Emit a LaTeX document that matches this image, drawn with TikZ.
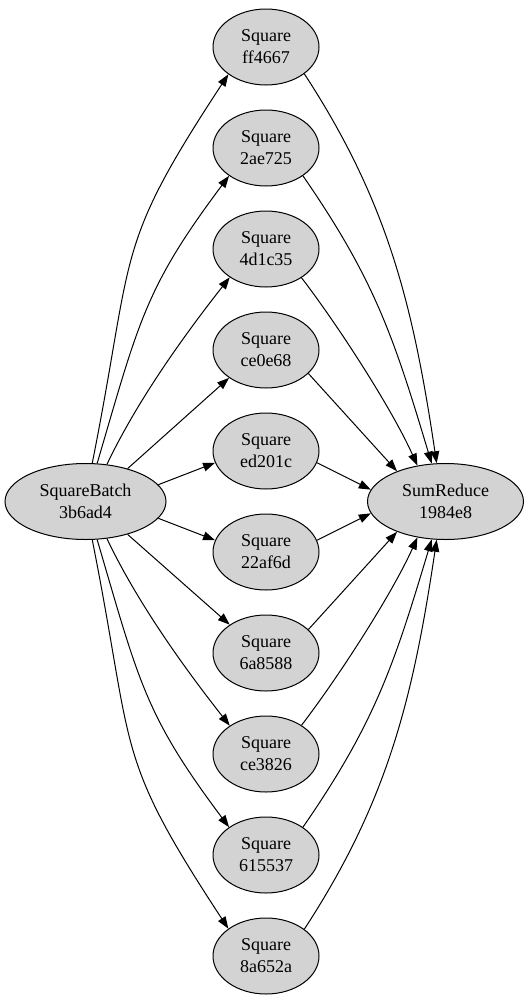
\documentclass[tikz,border=0pt]{standalone}
\usepackage{fontspec}
\setmainfont{Liberation Serif}
\usetikzlibrary{shapes.geometric,arrows.meta}
\definecolor{nodegray}{RGB}{211,211,211}
\begin{document}
\begin{tikzpicture}[x=0.75pt,y=-0.75pt,
  opnode/.style={ellipse,draw=black,fill=nodegray,line width=0.75pt,inner sep=0pt,
    minimum height=57pt,align=center,font=\fontsize{13.5}{16.5}\selectfont},
  sqnode/.style={opnode,minimum width=79.5pt},
  edge/.style={line width=0.75pt,-{Triangle[length=9pt,width=6.5pt]}}]
\useasboundingbox (0,0) rectangle (528,1000);
\node[opnode,minimum width=120.75pt] (sb) at (85.5,501.5) {SquareBatch\\3b6ad4};
\node[opnode,minimum width=117pt] (sr) at (445.5,501.5) {SumReduce\\1984e8};
\foreach \i/\lab in {0/ff4667,1/2ae725,2/4d1c35,3/ce0e68,4/ed201c,5/22af6d,6/6a8588,7/ce3826,8/615537,9/8a652a}{
  \node[sqnode] (s\i) at (266,{47+101*\i}) {Square\\\lab};
}
% SquareBatch -> Square (upper)
\draw[edge] (sb.80.4) .. controls (135,248) and (113,250) .. (s0.216);
\draw[edge] (sb.73.2) .. controls (139,321) and (145,288) .. (s1.217);
\draw[edge] (sb.60) .. controls (138,399) and (186,333) .. (s2.218);
\draw[edge] (sb.38.5) -- (s3.217.6);
\draw[edge] (sb.13.9) -- (s4.193);
% SquareBatch -> Square (lower)
\draw[edge] (sb.-13.9) -- (s5.167);
\draw[edge] (sb.-38.5) -- (s6.142.4);
\draw[edge] (sb.-60) .. controls (138,604) and (186,670) .. (s7.142);
\draw[edge] (sb.-73.2) .. controls (139,682) and (145,715) .. (s8.143);
\draw[edge] (sb.-80.4) .. controls (135,755) and (113,753) .. (s9.144);
% Square -> SumReduce (upper)
\draw[edge] (s0.325) .. controls (388,202) and (413,305) .. (sr.103);
\draw[edge] (s1.323) .. controls (375,280) and (394,338) .. (sr.110.3);
\draw[edge] (s2.321) .. controls (337,324) and (391,407) .. (sr.128.5);
\draw[edge] (s3.331) -- (sr.148);
\draw[edge] (s4.347) -- (sr.171.6);
% Square -> SumReduce (lower)
\draw[edge] (s5.13) -- (sr.-171.6);
\draw[edge] (s6.29) -- (sr.-148);
\draw[edge] (s7.39) .. controls (337,679) and (391,596) .. (sr.-128.5);
\draw[edge] (s8.37) .. controls (375,723) and (394,665) .. (sr.-110.3);
\draw[edge] (s9.35) .. controls (388,801) and (413,698) .. (sr.-103);
\end{tikzpicture}
\end{document}
